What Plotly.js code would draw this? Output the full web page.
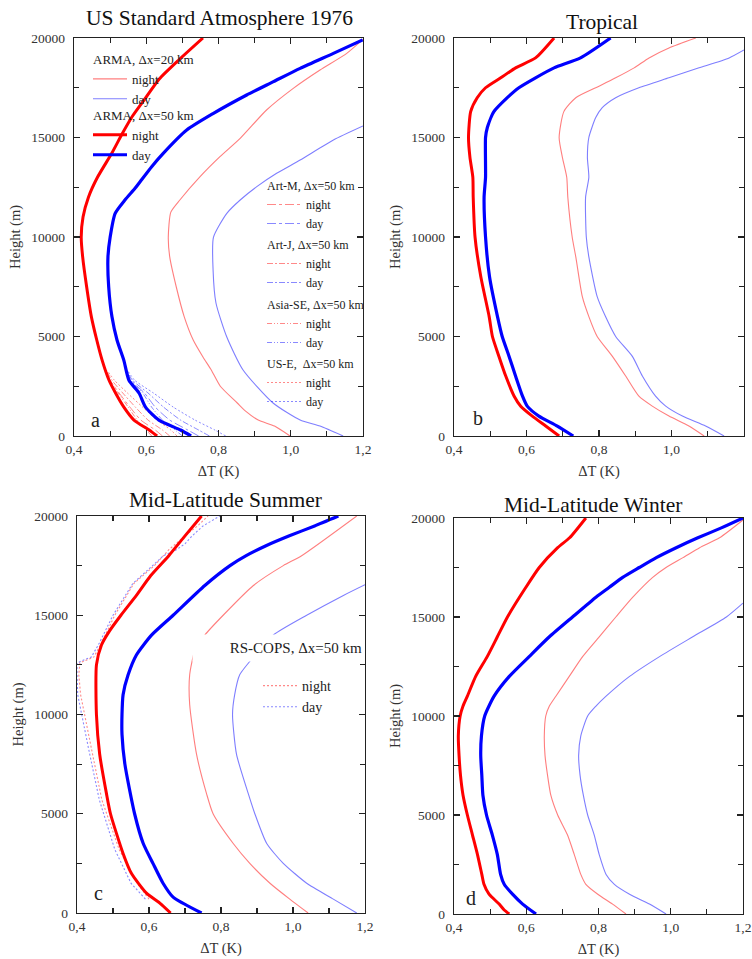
<!DOCTYPE html>
<html>
<head>
<meta charset="utf-8">
<script src="https://cdn.plot.ly/plotly-3.0.1.min.js"></script>
<style>html,body{margin:0;padding:0;background:#fff;}#chart{width:752px;height:959px;}</style>
</head>
<body>
<div id="chart"></div>
<script>
// ---------------- DATA (heights in m, ΔT in K) ----------------
// Panel a : US Standard Atmosphere 1976
var a_thin_night_h = [0, 500, 800, 1250, 1658, 2500, 3317, 3970, 4824, 6000, 7500, 9000, 10000, 11250, 11859, 13032, 14037, 14958, 16382, 17471, 18392, 19229, 19933];
var a_thin_night_x = [0.998, 0.955, 0.91, 0.875, 0.852, 0.805, 0.78, 0.757, 0.73, 0.705, 0.683, 0.665, 0.661, 0.668, 0.693, 0.749, 0.804, 0.86, 0.933, 1.007, 1.081, 1.155, 1.2];
var a_thin_day_h = [0, 500, 800, 1658, 3317, 4975, 6683, 8342, 9984, 11190, 11859, 12529, 13199, 13869, 14874, 15578];
var a_thin_day_x = [1.145, 1.081, 1.026, 0.951, 0.868, 0.823, 0.793, 0.785, 0.786, 0.823, 0.86, 0.906, 0.961, 1.026, 1.118, 1.2];
var a_thick_night_h = [0, 300, 800, 1450, 2160, 2800, 3800, 4824, 6000, 7500, 9000, 10000, 11000, 12000, 13000, 14221, 15175, 16080, 17035, 17940, 18894, 20000];
var a_thick_night_x = [0.63, 0.608, 0.566, 0.538, 0.515, 0.497, 0.478, 0.463, 0.448, 0.435, 0.424, 0.42, 0.425, 0.44, 0.465, 0.505, 0.533, 0.562, 0.6, 0.636, 0.69, 0.757];
var a_thick_day_h = [0, 300, 800, 1450, 2160, 2800, 3800, 4824, 6000, 7500, 9000, 9984, 11190, 11859, 12446, 12781, 13535, 14204, 15377, 16214, 17136, 17806, 18476, 19229, 19899];
var a_thick_day_x = [0.724, 0.695, 0.635, 0.598, 0.58, 0.552, 0.538, 0.519, 0.505, 0.496, 0.494, 0.5, 0.514, 0.541, 0.569, 0.583, 0.615, 0.647, 0.712, 0.786, 0.878, 0.952, 1.026, 1.118, 1.199];
// Panel a : regional runs (Δx=50 km), lowest 3.3 km
var a_reg_h = [0, 300, 800, 1450, 2160, 2800, 3300];
var a_artm_night = [0.645, 0.625, 0.585, 0.555, 0.525, 0.50, 0.488];
var a_artm_day   = [0.745, 0.715, 0.665, 0.625, 0.595, 0.558, 0.545];
var a_artj_night = [0.665, 0.645, 0.605, 0.57, 0.535, 0.505, 0.49];
var a_artj_day   = [0.775, 0.745, 0.695, 0.648, 0.605, 0.562, 0.546];
var a_asia_night = [0.615, 0.60, 0.575, 0.55, 0.522, 0.50, 0.488];
var a_asia_day   = [0.70, 0.68, 0.645, 0.615, 0.59, 0.556, 0.545];
var a_use_night  = [0.685, 0.668, 0.63, 0.59, 0.548, 0.512, 0.492];
var a_use_day    = [0.82, 0.79, 0.735, 0.675, 0.62, 0.568, 0.548];

// Panel b : Tropical
var b_thick_night_h = [0, 500, 1000, 1500, 2000, 3000, 4000, 5000, 6000, 8000, 10000, 12000, 13000, 14000, 15000, 16300, 17000, 17500, 18000, 18500, 19000, 20000];
var b_thick_night_x = [0.69, 0.653, 0.616, 0.584, 0.566, 0.543, 0.524, 0.506, 0.497, 0.474, 0.458, 0.453, 0.452, 0.444, 0.44, 0.446, 0.464, 0.487, 0.529, 0.57, 0.625, 0.676];
var b_thick_day_h = [0, 500, 1000, 1500, 2000, 3000, 4000, 5000, 6000, 8000, 10000, 12000, 13000, 15000, 15500, 16300, 17000, 17500, 18000, 18500, 19000, 20000];
var b_thick_day_x = [0.729, 0.685, 0.634, 0.602, 0.589, 0.57, 0.552, 0.533, 0.52, 0.498, 0.487, 0.483, 0.487, 0.487, 0.492, 0.51, 0.547, 0.579, 0.625, 0.676, 0.749, 0.832];
var b_thin_night_h = [0, 500, 1000, 1500, 2000, 3000, 4000, 5000, 6000, 7000, 9000, 10000, 12000, 13000, 14000, 15000, 16300, 17000, 17500, 18000, 18500, 19000, 19500, 20000];
var b_thin_night_x = [1.09, 1.048, 0.993, 0.947, 0.91, 0.874, 0.837, 0.795, 0.772, 0.754, 0.736, 0.726, 0.714, 0.711, 0.699, 0.69, 0.703, 0.736, 0.791, 0.846, 0.897, 0.938, 0.993, 1.067];
var b_thin_day_h = [0, 500, 1000, 1500, 2000, 3000, 4000, 5000, 6000, 7000, 9000, 10000, 12000, 13000, 14000, 15000, 16000, 16500, 17000, 17500, 18000, 18500, 19000, 19400];
var b_thin_day_x = [1.145, 1.094, 1.03, 0.984, 0.956, 0.92, 0.892, 0.846, 0.818, 0.795, 0.772, 0.765, 0.763, 0.772, 0.768, 0.772, 0.791, 0.809, 0.846, 0.91, 0.993, 1.076, 1.159, 1.2];

// Panel c : Mid-Latitude Summer
var c_thick_night_h = [0, 500, 1000, 2000, 3000, 5000, 6000, 8000, 10000, 12500, 13500, 14200, 15000, 16000, 17000, 18000, 19000, 20000];
var c_thick_night_x = [0.66, 0.63, 0.593, 0.551, 0.528, 0.493, 0.482, 0.463, 0.454, 0.454, 0.468, 0.49, 0.522, 0.565, 0.605, 0.655, 0.70, 0.746];
var c_thick_day_h = [0, 800, 1500, 2500, 3500, 5000, 7500, 9000, 10000, 11000, 12000, 13000, 14000, 15000, 16500, 17500, 18000, 18500, 19000, 19500, 20000];
var c_thick_day_x = [0.746, 0.667, 0.639, 0.611, 0.584, 0.56, 0.533, 0.525, 0.525, 0.528, 0.542, 0.565, 0.607, 0.667, 0.755, 0.825, 0.87, 0.925, 0.99, 1.06, 1.126];
var c_thin_night_h = [0, 700, 1500, 2500, 3500, 5000, 6000, 8000, 10500, 12000, 13200, 14000, 15000, 16500, 17500, 18000, 20000];
var c_thin_night_x = [1.042, 0.991, 0.936, 0.88, 0.834, 0.778, 0.76, 0.732, 0.713, 0.713, 0.727, 0.755, 0.806, 0.89, 0.973, 1.024, 1.177];
var c_thin_day_h = [0, 700, 1500, 2500, 3500, 5000, 6000, 8000, 10000, 11000, 12000, 13000, 14000, 15000, 16000, 16540];
var c_thin_day_x = [1.177, 1.112, 1.038, 0.973, 0.927, 0.894, 0.876, 0.843, 0.832, 0.838, 0.852, 0.895, 0.945, 1.038, 1.14, 1.2];
// Panel c : RS-COPS (Δx=50 km)
var c_rs_night_h = [700, 1500, 3200, 5700, 8200, 10000, 11000, 12000, 12600, 12900, 13600, 15000, 16600, 17500, 18300, 19000, 19500, 20000];
var c_rs_night_x = [0.60, 0.567, 0.517, 0.469, 0.441, 0.42, 0.41, 0.405, 0.408, 0.447, 0.468, 0.505, 0.558, 0.615, 0.655, 0.70, 0.735, 0.764];
var c_rs_day_h = [700, 1500, 3200, 5700, 8200, 10000, 11000, 12000, 12600, 12900, 13600, 15000, 16600, 17500, 18000, 18300, 18600, 19000, 19500, 20000];
var c_rs_day_x = [0.59, 0.55, 0.505, 0.462, 0.433, 0.413, 0.402, 0.40, 0.40, 0.44, 0.462, 0.50, 0.555, 0.61, 0.64, 0.676, 0.70, 0.72, 0.75, 0.797];

// Panel d : Mid-Latitude Winter
var d_thick_night_h = [0, 200, 500, 1000, 1500, 2000, 3000, 4000, 5000, 6000, 7000, 8000, 9000, 10000, 10500, 11000, 12000, 13000, 14000, 15000, 16500, 17500, 18500, 19000, 20000];
var d_thick_night_x = [0.553, 0.539, 0.525, 0.497, 0.483, 0.477, 0.465, 0.451, 0.437, 0.425, 0.418, 0.414, 0.412, 0.417, 0.425, 0.437, 0.46, 0.492, 0.52, 0.548, 0.599, 0.636, 0.687, 0.72, 0.765];
var d_thick_day_h = [0, 500, 1000, 1500, 2000, 3000, 4000, 5000, 6000, 7000, 8000, 9000, 10000, 11000, 12000, 13000, 14000, 15000, 16000, 16500, 17000, 17500, 18000, 18500, 19000, 19500, 20000];
var d_thick_day_x = [0.627, 0.59, 0.562, 0.539, 0.529, 0.52, 0.506, 0.49, 0.48, 0.477, 0.474, 0.476, 0.485, 0.511, 0.553, 0.608, 0.664, 0.728, 0.793, 0.83, 0.867, 0.913, 0.96, 1.015, 1.075, 1.14, 1.2];
var d_thin_night_h = [0, 500, 1000, 1500, 2000, 3000, 4000, 5000, 6000, 7000, 8000, 9000, 10000, 10500, 11000, 12000, 13000, 14000, 15000, 16000, 17000, 17500, 18000, 18500, 19000, 19900];
var d_thin_night_x = [0.876, 0.839, 0.798, 0.765, 0.751, 0.733, 0.714, 0.687, 0.668, 0.659, 0.652, 0.65, 0.654, 0.664, 0.682, 0.719, 0.756, 0.802, 0.848, 0.895, 0.95, 0.987, 1.034, 1.08, 1.135, 1.2];
var d_thin_day_h = [0, 500, 1000, 1500, 2000, 3000, 4000, 5000, 6000, 7000, 8000, 9000, 10000, 10500, 11000, 12000, 13000, 14000, 15000, 15700];
var d_thin_day_x = [0.987, 0.941, 0.886, 0.844, 0.821, 0.802, 0.788, 0.77, 0.758, 0.749, 0.745, 0.751, 0.77, 0.793, 0.821, 0.886, 0.969, 1.061, 1.154, 1.2];

// text
var panelTitles = ["US Standard Atmosphere 1976", "Tropical", "Mid-Latitude Summer", "Mid-Latitude Winter"];
var panelLetters = ["a", "b", "c", "d"];
var xTitle = "ΔT (K)";
var yTitle = "Height (m)";
var regionalNames = ["Art-M, Δx=50 km", "Art-J, Δx=50 km", "Asia-SE, Δx=50 km", "US-E,  Δx=50 km"];

// ---------------- STYLE ----------------
var RED = "#ff0000", BLUE = "#0000ff";
var RED_T = "rgba(255,40,40,0.6)", BLUE_T = "rgba(40,40,255,0.6)";
var RED_D = "rgba(255,40,40,0.55)", BLUE_D = "rgba(40,40,255,0.55)";
var SERIF = "'Liberation Serif', 'Times New Roman', serif";

function tr(x, h, ax, color, width, dash, extra) {
  var t = {
    type: "scatter", mode: "lines", x: x, y: h,
    xaxis: "x" + (ax === 1 ? "" : ax), yaxis: "y" + (ax === 1 ? "" : ax),
    line: {color: color, width: width, dash: dash || "solid", shape: "spline", smoothing: 0.6},
    showlegend: false, hoverinfo: "skip"
  };
  if (extra) for (var k in extra) t[k] = extra[k];
  return t;
}

var traces = [];
// panel a
traces.push(tr(a_thin_night_x, a_thin_night_h, 1, RED_T, 1.1, null, {name: "night", showlegend: true, legend: "legend", legendgroup: "g20", legendgrouptitle: {text: "ARMA, Δx=20 km"}, legendrank: 1}));
traces.push(tr(a_thin_day_x, a_thin_day_h, 1, BLUE_T, 1.1, null, {name: "day", showlegend: true, legend: "legend", legendgroup: "g20", legendrank: 2}));
var regional = [
  [a_artm_night, a_artm_day, "dashdot"],
  [a_artj_night, a_artj_day, "6px,2px,2px,2px"],
  [a_asia_night, a_asia_day, "5px,2px,1px,2px,1px,2px"],
  [a_use_night, a_use_day, "2px,2px"]
];
regional.forEach(function (r, i) {
  var lg = "legend" + (5 + i);
  traces.push(tr(r[0], a_reg_h, 1, RED_D, 1, r[2], {name: "night", showlegend: true, legend: lg, legendgroup: "r" + i, legendgrouptitle: {text: regionalNames[i]}, legendrank: 1}));
  traces.push(tr(r[1], a_reg_h, 1, BLUE_D, 1, r[2], {name: "day", showlegend: true, legend: lg, legendgroup: "r" + i, legendrank: 2}));
});
traces.push(tr(a_thick_night_x, a_thick_night_h, 1, RED, 3, null, {name: "night", showlegend: true, legend: "legend4", legendgroup: "g50", legendgrouptitle: {text: "ARMA, Δx=50 km"}, legendrank: 3}));
traces.push(tr(a_thick_day_x, a_thick_day_h, 1, BLUE, 3.2, null, {name: "day", showlegend: true, legend: "legend4", legendgroup: "g50", legendrank: 4}));
// panel b
traces.push(tr(b_thin_night_x, b_thin_night_h, 2, RED_T, 1.1));
traces.push(tr(b_thin_day_x, b_thin_day_h, 2, BLUE_T, 1.1));
traces.push(tr(b_thick_night_x, b_thick_night_h, 2, RED, 3));
traces.push(tr(b_thick_day_x, b_thick_day_h, 2, BLUE, 3.2));
// panel c
traces.push(tr(c_thin_night_x, c_thin_night_h, 3, RED_T, 1.1));
traces.push(tr(c_thin_day_x, c_thin_day_h, 3, BLUE_T, 1.1));
var rsN = tr(c_rs_night_x, c_rs_night_h, 3, RED_D, 1.1, "2px,2px", {name: "night", showlegend: true, legend: "legend3", legendrank: 1});
var rsD = tr(c_rs_day_x, c_rs_day_h, 3, BLUE_D, 1.1, "2px,2px", {name: "day", showlegend: true, legend: "legend3", legendrank: 2});
rsN.line.shape = "linear"; rsD.line.shape = "linear";
traces.push(rsN); traces.push(rsD);
traces.push(tr(c_thick_night_x, c_thick_night_h, 3, RED, 3));
traces.push(tr(c_thick_day_x, c_thick_day_h, 3, BLUE, 3.2));
// panel d
traces.push(tr(d_thin_night_x, d_thin_night_h, 4, RED_T, 1.1));
traces.push(tr(d_thin_day_x, d_thin_day_h, 4, BLUE_T, 1.1));
traces.push(tr(d_thick_night_x, d_thick_night_h, 4, RED, 3));
traces.push(tr(d_thick_day_x, d_thick_day_h, 4, BLUE, 3.2));

// ---------------- LAYOUT ----------------
var W = 752, H = 959;
function px(v) { return v / W; }
function py(v) { return 1 - v / H; }
// plot boxes in pixels [left, right, top, bottom]
var boxes = [[74, 363, 38, 436], [454, 744, 38, 436], [77, 365, 516, 913], [454, 743, 518, 914]];

function xa(b) {
  return {
    domain: [px(b[0]), px(b[1])], range: [0.4, 1.2], dtick: 0.2, tick0: 0.4, tickformat: ".1f",
    ticks: "inside", ticklen: 6, tickwidth: 1.2, tickcolor: "#222",
    minor: {dtick: 0.1, ticks: "inside", ticklen: 5, tickwidth: 1.2, tickcolor: "#222"},
    showline: true, linecolor: "#222", linewidth: 1.3, mirror: "ticks",
    showgrid: false, zeroline: false, fixedrange: true, automargin: false,
    tickfont: {family: SERIF, size: 13.5, color: "#333"}, ticklabelstandoff: 0,
    title: {text: xTitle, font: {family: SERIF, size: 14.5, color: "#333"}, standoff: 10}
  };
}
function ya(b) {
  return {
    domain: [py(b[3]), py(b[2])], range: [0, 20000], dtick: 5000, tick0: 0, tickformat: "d",
    ticks: "inside", ticklen: 6, tickwidth: 1.2, tickcolor: "#222",
    minor: {dtick: 2500, ticks: "inside", ticklen: 5, tickwidth: 1.2, tickcolor: "#222"},
    showline: true, linecolor: "#222", linewidth: 1.3, mirror: "ticks",
    showgrid: false, zeroline: false, fixedrange: true, automargin: false,
    tickfont: {family: SERIF, size: 13.5, color: "#333"}, ticklabelstandoff: 5,
    title: {text: yTitle, font: {family: SERIF, size: 14.5, color: "#333"}, standoff: 7}
  };
}
function legendAt(xPix, yPix, size) {
  return {
    x: px(xPix), y: py(yPix), xanchor: "left", yanchor: "top", bgcolor: "rgba(0,0,0,0)",
    font: {family: SERIF, size: size, color: "#222"}, grouptitlefont: {family: SERIF, size: size, color: "#222"},
    traceorder: "grouped", tracegroupgap: 0, itemwidth: 34
  };
}

var layout = {
  width: W, height: H, margin: {l: 0, r: 0, t: 0, b: 0},
  paper_bgcolor: "#fff", plot_bgcolor: "#fff",
  separators: ",.",
  font: {family: SERIF, color: "#222"},
  showlegend: true,
  legend: legendAt(88, 44, 13),
  legend4: legendAt(88, 100, 13),
  legend3: {
    x: px(258), y: py(670), xanchor: "left", yanchor: "top", bgcolor: "rgba(0,0,0,0)",
    font: {family: SERIF, size: 14, color: "#222"}, traceorder: "normal", itemwidth: 34
  },
  annotations: []
};
var regionalTops = [171, 230, 290, 349];
for (var g = 0; g < 4; g++) layout["legend" + (5 + g)] = legendAt(262, regionalTops[g], 12);

for (var i = 0; i < 4; i++) {
  var s = i === 0 ? "" : String(i + 1);
  layout["xaxis" + s] = xa(boxes[i]);
  layout["yaxis" + s] = ya(boxes[i]);
  if (i > 0) { layout["xaxis" + s].anchor = "y" + s; layout["yaxis" + s].anchor = "x" + s; }
}
var titlePos = [[219, 18], [602, 22], [225, 500], [593, 505]];
var letterPos = [[96, 420], [478, 418], [99, 893], [471, 898]];
for (var j = 0; j < 4; j++) {
  layout.annotations.push({
    text: panelTitles[j], xref: "paper", yref: "paper", x: px(titlePos[j][0]), y: py(titlePos[j][1]),
    xanchor: "center", yanchor: "middle", showarrow: false,
    font: {family: SERIF, size: 21.5, color: "#111"}
  });
  layout.annotations.push({
    text: panelLetters[j], xref: "paper", yref: "paper", x: px(letterPos[j][0]), y: py(letterPos[j][1]),
    xanchor: "center", yanchor: "middle", showarrow: false,
    font: {family: SERIF, size: 20, color: "#222"}
  });
}
// RS-COPS legend header (opaque box, as in the original)
layout.annotations.push({
  text: "RS-COPS, Δx=50 km", xref: "paper", yref: "paper", x: px(364), y: py(648),
  xanchor: "right", yanchor: "middle", showarrow: false, width: 168, height: 24, align: "right",
  bgcolor: "#fff", font: {family: SERIF, size: 15, color: "#222"}
});

Plotly.newPlot("chart", traces, layout, {staticPlot: true, displayModeBar: false});
</script>
</body>
</html>
